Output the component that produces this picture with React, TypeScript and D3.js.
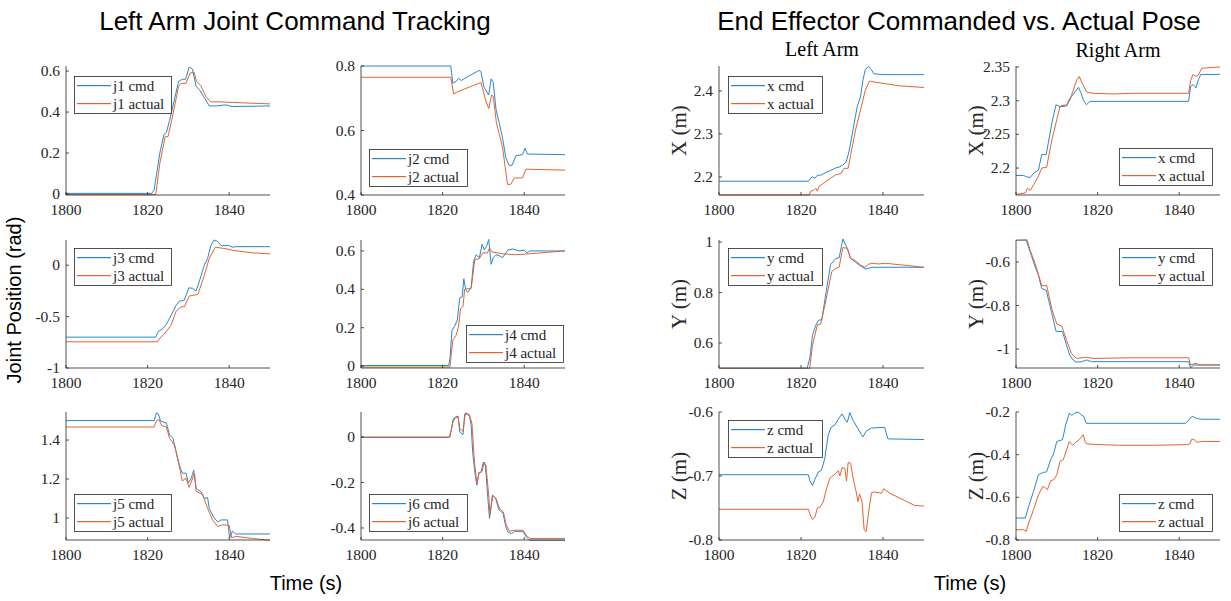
import React from "react";
import * as d3 from "d3";

// time axis shared by every panel
const timeDomain: [number, number] = [1800, 1850];
const timeTicks = [1800, 1820, 1840];

type Pt = [number, number];

// ---- left arm joints (rad) ----
const j1Cmd: Pt[] = [[1800,0.003],[1821,0.003],[1821.6,0.02],[1823,0.2],[1824,0.29],[1824.6,0.3],[1825.4,0.36],[1827.6,0.55],[1828.5,0.56],[1829.3,0.56],[1830.2,0.62],[1831,0.61],[1831.9,0.525],[1832.7,0.51],[1833.9,0.47],[1835.1,0.43],[1836.7,0.43],[1839.2,0.435],[1840.8,0.427],[1850,0.43]];
const j1Act: Pt[] = [[1800,-0.003],[1822,-0.003],[1823,0.15],[1824.3,0.28],[1825,0.28],[1825.8,0.35],[1827.6,0.525],[1828.2,0.54],[1829.4,0.54],[1830.4,0.59],[1831.4,0.595],[1832,0.55],[1833,0.53],[1834.3,0.475],[1835.5,0.45],[1837.5,0.45],[1840.8,0.447],[1850,0.44]];

const j2Cmd: Pt[] = [[1800,0.8],[1822,0.8],[1822.5,0.747],[1823.3,0.752],[1823.9,0.762],[1824.6,0.755],[1826.6,0.77],[1828.9,0.786],[1829.4,0.783],[1830.1,0.736],[1831.3,0.71],[1831.9,0.76],[1832.4,0.75],[1833.1,0.665],[1834.3,0.6],[1834.7,0.577],[1835.5,0.515],[1836.3,0.492],[1837,0.492],[1838,0.522],[1839.6,0.525],[1840.2,0.545],[1840.8,0.527],[1850,0.525]];
const j2Act: Pt[] = [[1800,0.765],[1822,0.765],[1822.7,0.713],[1823.3,0.718],[1826.6,0.735],[1829.4,0.749],[1830.5,0.696],[1831.3,0.668],[1832,0.71],[1832.4,0.706],[1833.2,0.623],[1834.7,0.547],[1835.9,0.433],[1836.7,0.433],[1837.6,0.453],[1839.6,0.453],[1840.4,0.48],[1850,0.477]];

const j3Cmd: Pt[] = [[1800,-0.7],[1822,-0.7],[1822.6,-0.645],[1823.8,-0.615],[1824.6,-0.575],[1825.8,-0.485],[1827,-0.39],[1827.8,-0.35],[1829,-0.34],[1830.1,-0.22],[1831,-0.225],[1831.9,-0.25],[1832.7,-0.155],[1833.9,0],[1834.7,0.065],[1835.5,0.19],[1836.3,0.245],[1837.2,0.23],[1838,0.19],[1840,0.19],[1840.8,0.175],[1841.6,0.18],[1850,0.18]];
const j3Act: Pt[] = [[1800,-0.745],[1822.4,-0.745],[1823,-0.71],[1823.8,-0.68],[1824.6,-0.645],[1825.8,-0.58],[1827,-0.445],[1828.2,-0.405],[1829,-0.405],[1830.2,-0.3],[1832.3,-0.285],[1833.9,-0.1],[1835.1,0.065],[1836.6,0.175],[1839.2,0.16],[1840.8,0.145],[1845.7,0.12],[1850,0.11]];

const j4Cmd: Pt[] = [[1800,0.003],[1821.5,0.003],[1821.8,0.04],[1822.3,0.185],[1823,0.21],[1823.6,0.24],[1824.2,0.355],[1824.8,0.36],[1825.2,0.455],[1825.7,0.395],[1826.2,0.385],[1827,0.41],[1827.6,0.545],[1828.2,0.58],[1829,0.565],[1829.7,0.635],[1830.2,0.605],[1830.8,0.625],[1831.3,0.66],[1831.9,0.53],[1832.4,0.565],[1833.1,0.58],[1833.9,0.575],[1834.7,0.565],[1836,0.605],[1837.2,0.61],[1838.8,0.6],[1840,0.605],[1840.6,0.59],[1841.4,0.6],[1850,0.6]];
const j4Act: Pt[] = [[1800,-0.005],[1821.8,-0.005],[1822.5,0.135],[1823.3,0.16],[1823.9,0.205],[1824.4,0.3],[1825,0.31],[1825.4,0.4],[1827,0.405],[1827.9,0.555],[1829,0.56],[1829.8,0.59],[1831,0.59],[1831.5,0.615],[1832.1,0.595],[1834.7,0.585],[1837.9,0.58],[1841.2,0.585],[1850,0.6]];

const j5Cmd: Pt[] = [[1800,1.5],[1821.6,1.5],[1822.2,1.54],[1822.6,1.535],[1823.2,1.497],[1824.6,1.488],[1825.4,1.425],[1826.2,1.41],[1827,1.34],[1827.8,1.27],[1828.5,1.23],[1829.4,1.23],[1830,1.18],[1830.7,1.205],[1831.3,1.245],[1831.9,1.153],[1832.3,1.145],[1833.1,1.135],[1833.9,1.1],[1834.7,1.105],[1835.1,1.05],[1836.3,1],[1837.2,0.98],[1838,0.99],[1839.6,0.99],[1840.1,0.898],[1840.8,0.932],[1841.6,0.918],[1850,0.918]];
const j5Act: Pt[] = [[1800,1.467],[1821.6,1.467],[1822.2,1.5],[1822.8,1.505],[1823.4,1.475],[1824.6,1.467],[1825.4,1.408],[1826.6,1.374],[1827.8,1.263],[1828.5,1.19],[1829.4,1.204],[1830.2,1.157],[1831.5,1.23],[1831.9,1.137],[1833.5,1.12],[1834.7,1.05],[1835.9,0.99],[1837.2,0.957],[1838.4,0.965],[1840,0.962],[1840.6,0.898],[1841.6,0.906],[1845.7,0.895],[1850,0.885]];

const j6Cmd: Pt[] = [[1800,-0.002],[1821.6,-0.002],[1822.2,0.036],[1822.6,0.08],[1823.2,0.088],[1823.8,0.092],[1824.2,0.022],[1825,0.01],[1825.4,0.1],[1826,0.1],[1826.6,0.092],[1827,0.05],[1827.4,-0.073],[1828,-0.168],[1828.4,-0.212],[1828.9,-0.156],[1829.4,-0.156],[1830,-0.11],[1830.5,-0.127],[1831.1,-0.27],[1831.5,-0.358],[1832.2,-0.255],[1833,-0.27],[1833.8,-0.32],[1834.8,-0.335],[1835.5,-0.395],[1836,-0.418],[1836.9,-0.425],[1837.7,-0.415],[1839.7,-0.415],[1840.5,-0.44],[1841.3,-0.454],[1850,-0.454]];
const j6Act: Pt[] = [[1800,0],[1821.8,0],[1822.4,0.058],[1823,0.084],[1823.8,0.088],[1824.2,0.037],[1825,0.025],[1825.6,0.107],[1826.6,0.098],[1827.2,0.058],[1827.8,-0.11],[1828.4,-0.205],[1828.9,-0.16],[1829.7,-0.15],[1830.2,-0.11],[1830.6,-0.124],[1831.3,-0.255],[1831.6,-0.343],[1832.3,-0.258],[1833.1,-0.27],[1833.9,-0.313],[1834.9,-0.33],[1835.6,-0.388],[1836.4,-0.414],[1837.7,-0.41],[1839.7,-0.41],[1840.5,-0.432],[1841.4,-0.446],[1850,-0.446]];

// ---- end effector pose (m) ----
const leftXCmd: Pt[] = [[1800,2.19],[1821.8,2.19],[1822.4,2.198],[1822.8,2.2],[1823.4,2.197],[1824,2.204],[1824.8,2.204],[1826,2.21],[1827.2,2.215],[1828.5,2.221],[1829.3,2.223],[1830.1,2.227],[1831,2.235],[1831.7,2.258],[1832.5,2.3],[1833.7,2.363],[1834.5,2.386],[1835.1,2.425],[1835.7,2.45],[1836.5,2.457],[1837.1,2.45],[1837.8,2.44],[1839.8,2.438],[1850,2.438]];
const leftXAct: Pt[] = [[1800,2.158],[1822,2.158],[1822.4,2.167],[1823,2.169],[1823.6,2.174],[1824,2.167],[1824.4,2.178],[1825.6,2.186],[1827.2,2.197],[1828.5,2.205],[1829.7,2.208],[1830.5,2.22],[1831.5,2.22],[1832.1,2.25],[1833.3,2.309],[1834.5,2.355],[1835.7,2.402],[1836.7,2.423],[1838.2,2.42],[1840.6,2.417],[1843.8,2.412],[1850,2.408]];
const rightXCmd: Pt[] = [[1800,2.189],[1801.9,2.189],[1802.5,2.187],[1803.5,2.186],[1804.3,2.192],[1805.5,2.197],[1806.3,2.22],[1807.4,2.22],[1808.8,2.267],[1809.8,2.294],[1810.8,2.291],[1812.4,2.292],[1813.6,2.306],[1815.3,2.32],[1815.9,2.312],[1816.5,2.301],[1817.3,2.294],[1818.1,2.299],[1842.3,2.299],[1842.8,2.321],[1843.4,2.324],[1844.1,2.319],[1844.7,2.331],[1845.3,2.339],[1850,2.339]];
const rightXAct: Pt[] = [[1800,2.161],[1802.3,2.163],[1802.8,2.17],[1803.5,2.167],[1804.3,2.175],[1805.5,2.188],[1806.3,2.2],[1807.5,2.201],[1808.8,2.242],[1810,2.272],[1810.8,2.292],[1812.4,2.294],[1813.6,2.308],[1814.9,2.331],[1815.5,2.336],[1816.3,2.325],[1817.3,2.313],[1818.9,2.311],[1823.8,2.31],[1828.6,2.311],[1842.3,2.311],[1842.8,2.33],[1843.4,2.339],[1844.1,2.336],[1844.7,2.338],[1845.5,2.348],[1847.3,2.349],[1850,2.35]];

const leftYCmd: Pt[] = [[1800,0.5],[1821.5,0.5],[1822.2,0.544],[1822.8,0.63],[1823.6,0.67],[1824.3,0.69],[1825.1,0.693],[1826,0.79],[1827.2,0.91],[1828.5,0.935],[1829.3,0.937],[1830.2,1.012],[1831.3,0.975],[1832.1,0.935],[1833.3,0.92],[1834.5,0.906],[1835.7,0.893],[1837.3,0.9],[1850,0.9]];
const leftYAct: Pt[] = [[1800,0.497],[1822.1,0.497],[1822.8,0.59],[1824,0.673],[1824.8,0.675],[1826,0.763],[1827.5,0.883],[1828.5,0.896],[1829.3,0.9],[1830.2,0.978],[1831.3,0.975],[1832.1,0.935],[1833.1,0.928],[1834.5,0.909],[1835.6,0.9],[1836.5,0.912],[1837.3,0.916],[1838.9,0.913],[1840.5,0.916],[1850,0.9]];
const rightYCmd: Pt[] = [[1800,-0.5],[1802.5,-0.5],[1803.5,-0.555],[1804.7,-0.623],[1805.5,-0.661],[1806.3,-0.722],[1807.4,-0.73],[1808.8,-0.837],[1809.8,-0.918],[1811.4,-0.92],[1812.4,-0.982],[1813.2,-1.03],[1814,-1.05],[1814.8,-1.06],[1816.1,-1.058],[1817.3,-1.05],[1818.5,-1.058],[1842.3,-1.058],[1842.8,-1.085],[1843.6,-1.073],[1850,-1.073]];
const rightYAct: Pt[] = [[1800,-0.5],[1802.7,-0.498],[1803.5,-0.547],[1804.7,-0.608],[1806.3,-0.708],[1807.1,-0.71],[1807.5,-0.706],[1808.8,-0.817],[1810,-0.885],[1811.2,-0.894],[1812.4,-0.96],[1813.6,-1.02],[1814.8,-1.043],[1816.1,-1.04],[1817.3,-1.038],[1818.9,-1.043],[1828.6,-1.04],[1842.3,-1.04],[1842.8,-1.073],[1844.1,-1.065],[1844.8,-1.073],[1850,-1.073]];

const leftZCmd: Pt[] = [[1800,-0.698],[1821.8,-0.698],[1822.2,-0.708],[1822.8,-0.715],[1823.4,-0.705],[1824.2,-0.694],[1825,-0.691],[1825.8,-0.673],[1826.6,-0.637],[1827.3,-0.624],[1828.3,-0.62],[1829.1,-0.611],[1830,-0.603],[1830.7,-0.611],[1831.3,-0.616],[1831.9,-0.601],[1832.7,-0.613],[1833.9,-0.626],[1834.7,-0.635],[1835.1,-0.639],[1835.9,-0.63],[1837.2,-0.625],[1840.4,-0.624],[1841.2,-0.642],[1850,-0.643]];
const leftZAct: Pt[] = [[1800,-0.752],[1821.8,-0.752],[1822.2,-0.76],[1822.8,-0.768],[1823.4,-0.764],[1824,-0.75],[1824.6,-0.749],[1825.4,-0.741],[1826.3,-0.718],[1827.1,-0.703],[1828.3,-0.697],[1829.1,-0.692],[1829.5,-0.7],[1830,-0.687],[1830.7,-0.688],[1831.1,-0.708],[1831.5,-0.679],[1832.1,-0.68],[1832.7,-0.703],[1833.5,-0.726],[1833.9,-0.74],[1834.3,-0.728],[1834.9,-0.741],[1835.4,-0.784],[1835.9,-0.787],[1836.5,-0.756],[1837.2,-0.726],[1838,-0.725],[1839.6,-0.727],[1840.2,-0.72],[1840.8,-0.723],[1842,-0.728],[1845.2,-0.738],[1847.7,-0.746],[1850,-0.747]];
const rightZCmd: Pt[] = [[1800,-0.697],[1802.3,-0.697],[1803.1,-0.642],[1804.3,-0.572],[1805.5,-0.494],[1806.7,-0.483],[1807.5,-0.481],[1808.5,-0.423],[1809.2,-0.397],[1810,-0.338],[1811.4,-0.33],[1812.2,-0.259],[1813.1,-0.205],[1813.6,-0.216],[1814.4,-0.205],[1815.3,-0.2],[1816.1,-0.216],[1816.6,-0.22],[1817.2,-0.253],[1841.6,-0.253],[1842.4,-0.236],[1843.2,-0.22],[1844.4,-0.231],[1845.7,-0.234],[1850,-0.234]];
const rightZAct: Pt[] = [[1800,-0.752],[1801.9,-0.752],[1802.5,-0.76],[1803.1,-0.72],[1804.3,-0.658],[1805.5,-0.588],[1806.6,-0.548],[1807.2,-0.556],[1807.7,-0.564],[1808.5,-0.522],[1809.3,-0.517],[1810,-0.494],[1810.8,-0.431],[1811.6,-0.423],[1812.4,-0.377],[1813.1,-0.338],[1813.9,-0.356],[1814.7,-0.341],[1815.5,-0.33],[1816.5,-0.306],[1816.9,-0.338],[1817.4,-0.35],[1820.6,-0.353],[1825.4,-0.356],[1833.5,-0.356],[1842,-0.353],[1842.6,-0.35],[1843.1,-0.327],[1843.6,-0.329],[1844.4,-0.342],[1845.7,-0.338],[1850,-0.338]];

const CMD = "#2a87cc";
const ACT = "#df6535";
const AX = "#262626";
const SERIF = "'Liberation Serif', 'Times New Roman', serif";
const SANS = "'Liberation Sans', Arial, Helvetica, sans-serif";

// grid geometry (pixels)
const cols = [[66, 270], [361, 565], [719, 924], [1016, 1220]];
const rows = [[66, 195], [240, 368], [412, 540]];

interface Panel {
  col: number; row: number;
  yDomain: [number, number]; yTicks: number[];
  cmd: Pt[]; act: Pt[];
  names: [string, string];
  legend: [number, number, number]; // x, y, width
  ylabel?: string;
}

const panels: Panel[] = [
  { col: 0, row: 0, yDomain: [-0.005, 0.625], yTicks: [0, 0.2, 0.4, 0.6], cmd: j1Cmd, act: j1Act, names: ["j1 cmd", "j1 actual"], legend: [74, 76, 97] },
  { col: 1, row: 0, yDomain: [0.4, 0.8], yTicks: [0.4, 0.6, 0.8], cmd: j2Cmd, act: j2Act, names: ["j2 cmd", "j2 actual"], legend: [369, 149, 98] },
  { col: 0, row: 1, yDomain: [-1, 0.245], yTicks: [-1, -0.5, 0], cmd: j3Cmd, act: j3Act, names: ["j3 cmd", "j3 actual"], legend: [74, 248, 97] },
  { col: 1, row: 1, yDomain: [-0.01, 0.657], yTicks: [0, 0.2, 0.4, 0.6], cmd: j4Cmd, act: j4Act, names: ["j4 cmd", "j4 actual"], legend: [466, 325, 97] },
  { col: 0, row: 2, yDomain: [0.887, 1.544], yTicks: [1, 1.2, 1.4], cmd: j5Cmd, act: j5Act, names: ["j5 cmd", "j5 actual"], legend: [74, 494, 97] },
  { col: 1, row: 2, yDomain: [-0.453, 0.11], yTicks: [-0.4, -0.2, 0], cmd: j6Cmd, act: j6Act, names: ["j6 cmd", "j6 actual"], legend: [369, 494, 98] },
  { col: 2, row: 0, yDomain: [2.158, 2.458], yTicks: [2.2, 2.3, 2.4], cmd: leftXCmd, act: leftXAct, names: ["x cmd", "x actual"], legend: [728, 76, 94], ylabel: "X (m)" },
  { col: 3, row: 0, yDomain: [2.16, 2.3515], yTicks: [2.2, 2.25, 2.3, 2.35], cmd: rightXCmd, act: rightXAct, names: ["x cmd", "x actual"], legend: [1119, 148, 93], ylabel: "X (m)" },
  { col: 2, row: 1, yDomain: [0.501, 1.008], yTicks: [0.6, 0.8, 1], cmd: leftYCmd, act: leftYAct, names: ["y cmd", "y actual"], legend: [728, 248, 94], ylabel: "Y (m)" },
  { col: 3, row: 1, yDomain: [-1.087, -0.499], yTicks: [-1, -0.8, -0.6], cmd: rightYCmd, act: rightYAct, names: ["y cmd", "y actual"], legend: [1119, 248, 93], ylabel: "Y (m)" },
  { col: 2, row: 2, yDomain: [-0.8, -0.6], yTicks: [-0.8, -0.7, -0.6], cmd: leftZCmd, act: leftZAct, names: ["z cmd", "z actual"], legend: [728, 420, 94], ylabel: "Z (m)" },
  { col: 3, row: 2, yDomain: [-0.8, -0.2], yTicks: [-0.8, -0.6, -0.4, -0.2], cmd: rightZCmd, act: rightZAct, names: ["z cmd", "z actual"], legend: [1119, 494, 93], ylabel: "Z (m)" },
];

function SubPlot({ p, i }: { p: Panel; i: number }) {
  const [x0, x1] = cols[p.col];
  const [y0, y1] = rows[p.row];
  const x = d3.scaleLinear().domain(timeDomain).range([x0, x1]);
  const y = d3.scaleLinear().domain(p.yDomain).range([y1, y0]);
  const line = d3.line<Pt>().x((d) => x(d[0])).y((d) => y(d[1]));
  const clipId = `clip${i}`;
  const [lx, ly, lw] = p.legend;
  return (
    <g>
      <clipPath id={clipId}>
        <rect x={x0} y={y0 - 1} width={x1 - x0} height={y1 - y0 + 2} />
      </clipPath>
      <g clipPath={`url(#${clipId})`} fill="none" strokeWidth={1}>
        <path d={line(p.cmd) || ""} stroke={CMD} />
        <path d={line(p.act) || ""} stroke={ACT} />
      </g>
      {/* axes: left + bottom only */}
      <line x1={x0} x2={x0} y1={y0} y2={y1} stroke={AX} strokeWidth={0.8} />
      <line x1={x0} x2={x1} y1={y1} y2={y1} stroke={AX} strokeWidth={0.8} />
      {p.yTicks.map((t) => (
        <g key={"y" + t}>
          <line x1={x0} x2={x0 + 3} y1={y(t)} y2={y(t)} stroke={AX} strokeWidth={0.8} />
          <text x={x0 - 6} y={y(t)} dy="0.33em" textAnchor="end" fontFamily={SERIF} fontSize={15.5} fill={AX}>
            {String(t)}
          </text>
        </g>
      ))}
      {timeTicks.map((t) => (
        <g key={"x" + t}>
          <line x1={x(t)} x2={x(t)} y1={y1} y2={y1 - 3} stroke={AX} strokeWidth={0.8} />
          <text x={x(t)} y={y1 + 20} textAnchor="middle" fontFamily={SERIF} fontSize={15.5} fill={AX}>
            {t}
          </text>
        </g>
      ))}
      {p.ylabel && (
        <text
          transform={`translate(${x0 - 33},${(y0 + y1) / 2}) rotate(-90)`}
          textAnchor="middle"
          fontFamily={SERIF}
          fontSize={21}
          fill={AX}
        >
          {p.ylabel}
        </text>
      )}
      {/* legend */}
      <rect x={lx + 0.5} y={ly + 0.5} width={lw} height={37} fill="#fff" stroke={AX} strokeWidth={0.8} />
      {[CMD, ACT].map((c, k) => (
        <g key={k}>
          <rect x={lx + 3} y={ly + 9 + k * 18} width={34} height={1.2} fill={c} />
          <text x={lx + 39} y={ly + 14.5 + k * 18} fontFamily={SERIF} fontSize={15} fill={AX}>
            {p.names[k]}
          </text>
        </g>
      ))}
    </g>
  );
}

export default function App() {
  return (
    <svg
      width={1231}
      height={601}
      style={{ position: "absolute", left: 0, top: 0, background: "#fff" }}
    >
      <text x={295} y={30} textAnchor="middle" fontFamily={SANS} fontSize={26} fill="#000">
        Left Arm Joint Command Tracking
      </text>
      <text x={959} y={30} textAnchor="middle" fontFamily={SANS} fontSize={26} fill="#000">
        End Effector Commanded vs. Actual Pose
      </text>
      <text x={822} y={56} textAnchor="middle" fontFamily={SERIF} fontSize={20} fill="#000">
        Left Arm
      </text>
      <text x={1118} y={57} textAnchor="middle" fontFamily={SERIF} fontSize={20} fill="#000">
        Right Arm
      </text>
      <text transform="translate(21,300) rotate(-90)" textAnchor="middle" fontFamily={SANS} fontSize={20} fill="#000">
        Joint Position (rad)
      </text>
      <text x={306} y={590} textAnchor="middle" fontFamily={SANS} fontSize={20} fill="#000">
        Time (s)
      </text>
      <text x={970} y={590} textAnchor="middle" fontFamily={SANS} fontSize={20} fill="#000">
        Time (s)
      </text>
      {panels.map((p, i) => (
        <SubPlot key={i} p={p} i={i} />
      ))}
    </svg>
  );
}
